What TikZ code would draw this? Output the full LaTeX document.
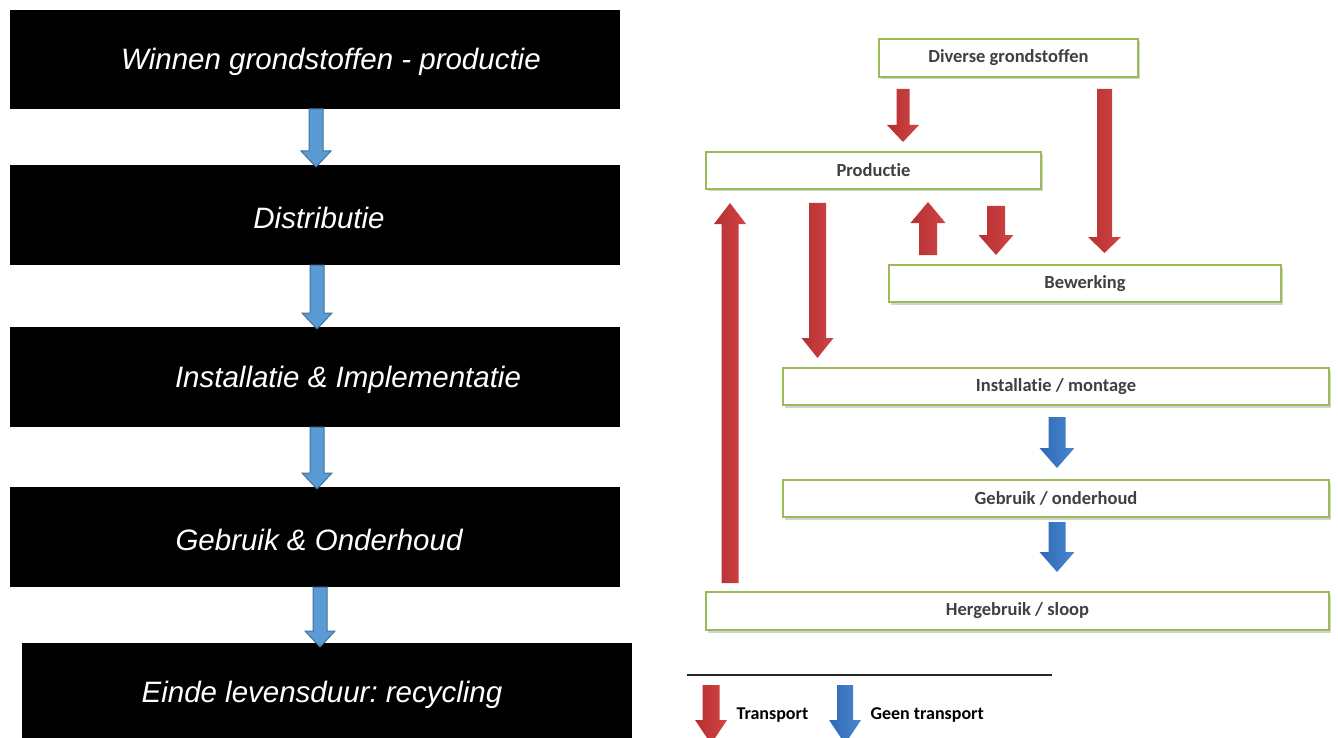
\documentclass[tikz,border=0pt]{standalone}
\usepackage{fontspec}
\setmainfont{Liberation Sans}
\newfontfamily\calib[RawFeature=-liga]{Carlito}
\usetikzlibrary{shadows}
\frenchspacing
\definecolor{redA}{HTML}{B53031}
\definecolor{redB}{HTML}{D24446}
\definecolor{blueA}{HTML}{2F69B5}
\definecolor{blueB}{HTML}{4A86D0}
\definecolor{lblue}{HTML}{5B9BD5}
\definecolor{lblueE}{HTML}{41719C}
\definecolor{grn}{HTML}{9BBB59}
\definecolor{txt}{HTML}{404040}
% style, cx, ytail, ytip, half shaft, half head, signed head length
\newcommand\blockarrow[7]{%
  \path[#1] (#2-#5,#3) -- (#2+#5,#3) -- (#2+#5,#4-#7) -- (#2+#6,#4-#7) -- (#2,#4)
    -- (#2-#6,#4-#7) -- (#2-#5,#4-#7) -- cycle;}
\tikzset{
  blackbox/.style={fill=black, text=white, font=\fontsize{29.5}{34}\selectfont\itshape},
  greenbox/.style={draw=grn, line width=1.6pt, fill=white,
    drop shadow={opacity=0.35, shadow xshift=1.5pt, shadow yshift=-2.5pt},
    text=txt, font=\calib\bfseries\fontsize{18.5}{22}\selectfont},
  redarrow/.style={left color=redA, right color=redB},
  bluearrow/.style={left color=blueA, right color=blueB},
  lightarrow/.style={fill=lblue, draw=lblueE, line width=1pt},
  legtext/.style={text=black, font=\calib\bfseries\fontsize{18}{21}\selectfont, anchor=west}
}
\begin{document}
\begin{tikzpicture}[x=1pt,y=-1pt]
\useasboundingbox (0,0) rectangle (1338,738);
% left column
\fill[black] (10,10) rectangle (620,109);
\node[blackbox] (b1) at (331,62) {Winnen grondstoffen - productie};
\fill[black] (10,165) rectangle (620,265);
\node[blackbox] (b2) at (319,218) {Distributie};
\fill[black] (10,327) rectangle (620,427);
\node[blackbox] (b3) at (348,380) {Installatie \& Implementatie};
\fill[black] (10,487) rectangle (620,587);
\node[blackbox] (b4) at (319,540) {Gebruik \& Onderhoud};
\fill[black] (22,643) rectangle (632,740);
\node[blackbox] (b5) at (322,695) {Einde levensduur: recycling};
\blockarrow{lightarrow}{316}{109}{167}{7}{15}{16}
\blockarrow{lightarrow}{317}{265}{329}{7}{15}{16}
\blockarrow{lightarrow}{317}{427}{489}{7}{15}{16}
\blockarrow{lightarrow}{320}{587}{647}{7}{15}{16}
% right column
\node[greenbox, minimum width=259pt, minimum height=38pt] (div) at (1008.5,58) {Diverse grondstoffen};
\node[greenbox, minimum width=335pt, minimum height=37pt] (prod) at (873.5,170.5) {Productie};
\node[greenbox, minimum width=392pt, minimum height=37pt] (bew) at (1085,283.5) {Bewerking};
\node[greenbox, minimum width=546pt, minimum height=37pt] (inst) at (1056,386.5) {Installatie / montage};
\node[greenbox, minimum width=546pt, minimum height=37pt] (gebr) at (1056,498.5) {Gebruik / onderhoud};
\node[greenbox, minimum width=623pt, minimum height=38pt] (herg) at (1017.5,611) {Hergebruik / sloop};
% red arrows
\blockarrow{redarrow}{903}{89}{142}{6.5}{16}{17}
\blockarrow{redarrow}{1104.5}{89}{253}{7.5}{16.5}{16}
\blockarrow{redarrow}{928}{255}{202}{9}{17.5}{-21}
\blockarrow{redarrow}{996}{206}{255}{9}{17.5}{20}
\blockarrow{redarrow}{817.5}{203}{358}{8.5}{16}{20}
\blockarrow{redarrow}{730}{583}{203}{8.5}{16}{-21}
% blue arrows
\blockarrow{bluearrow}{1057}{417}{468}{8.5}{17.5}{20}
\blockarrow{bluearrow}{1057}{522}{572}{8.5}{17.5}{20}
% legend
\draw[line width=1.2pt, black!85] (687,675) -- (1052,675);
\blockarrow{redarrow}{711}{685}{744}{8.5}{16}{24}
\node[legtext] (lt1) at (733,715) {Transport};
\blockarrow{bluearrow}{845}{685}{744}{8}{16}{24}
\node[legtext] (lt2) at (867,715) {Geen transport};
\end{tikzpicture}
\end{document}
